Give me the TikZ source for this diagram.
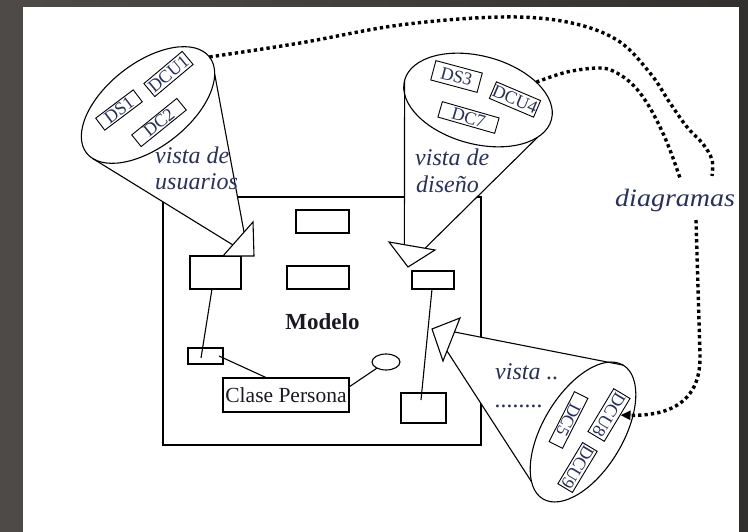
\documentclass[tikz,border=0pt]{standalone}
\usepackage{fontspec}
\setmainfont{Liberation Serif}
\usetikzlibrary{shapes.geometric,arrows.meta,calc}
\pgfdeclarelayer{bg}
\pgfdeclarelayer{mid}
\pgfsetlayers{bg,mid,main}
\definecolor{frameA}{RGB}{78,74,72}
\definecolor{frameB}{RGB}{50,48,46}
\definecolor{ink}{RGB}{40,48,92}
\definecolor{inkdark}{RGB}{25,25,35}
\begin{document}
\begin{tikzpicture}[x=1pt,y=-1pt,
  ln/.style={line width=1.1pt},
  obj/.style={draw, line width=1.1pt, fill=white, inner sep=0pt, outer sep=0pt},
  dtag/.style={draw, line width=0.9pt, fill=white, inner sep=0pt, text=ink,
               font=\fontsize{18}{18}\selectfont},
  conebase/.style={ellipse, draw, fill=white, line width=1.1pt, inner sep=0pt, outer sep=0pt},
  headtri/.style={draw, fill=white, line width=1.1pt, line join=miter},
  lbl/.style={anchor=base west, inner sep=0pt, text=ink,
              font=\fontsize{24}{24}\selectfont\itshape},
  dotline/.style={line width=3.4pt, dash pattern=on 3.3pt off 3.1pt}
]
\useasboundingbox (0,0) rectangle (748,532);

% frame and the model box underneath the view cones
\begin{pgfonlayer}{bg}
  \shade[left color=frameA, right color=frameB] (0,0) rectangle (748,532);
  \fill[white] (23,7) rectangle (739,532);
  \node[draw, line width=1.2pt, minimum width=318pt, minimum height=248pt,
        inner sep=0pt] (model) at (322,321) {};
\end{pgfonlayer}

% contents of the model
\node[font=\fontsize{23}{23}\selectfont\bfseries, text=inkdark, anchor=base,
      inner sep=0pt] (modelo) at (322.5,329.5) {Modelo};
\node[obj, minimum width=53pt, minimum height=23pt] (r1) at (322.5,221.5) {};
\node[obj, minimum width=62pt, minimum height=23pt] (r2) at (318,277.5) {};
\node[obj, minimum width=51pt, minimum height=33pt] (r3) at (215.5,272.5) {};
\node[obj, minimum width=42pt, minimum height=18pt] (r4) at (433,280) {};
\node[obj, minimum width=35pt, minimum height=16pt] (r5) at (205.5,356) {};
\node[obj, minimum width=126pt, minimum height=34pt, text=inkdark,
      font=\fontsize{21.5}{21.5}\selectfont] (clase) at (286,395) {Clase Persona};
\node[obj, ellipse, minimum width=28pt, minimum height=16pt] (oval) at (386,362) {};
\node[obj, minimum width=45pt, minimum height=30pt] (r6) at (423.5,408) {};

\draw[ln] ([xshift=-3.5pt]r3.south) -- ([xshift=-4.5pt,yshift=-2pt]r5.center);
\draw[ln] ([xshift=-4pt]r5.east) -- ([xshift=-19pt]clase.north);
\draw[ln] ([yshift=8pt]clase.east) -- (oval);
\draw[ln] ([xshift=-1pt]r4.south) -- ([xshift=-2.5pt,yshift=8pt]r6.center);

% bases of the three view cones
\node[conebase, minimum width=156pt, minimum height=84pt, rotate=38] (eU) at (148,105) {};
\node[conebase, minimum width=152pt, minimum height=88pt, rotate=-15] (eD) at (478,100) {};
\node[conebase, minimum width=156pt, minimum height=80pt, rotate=59] (eB) at (583,432) {};

% where the cone sides meet the arrow heads
\coordinate (uA) at (233,245);
\coordinate (uB) at (244,232);
\coordinate (dA) at (404.4,244.7);
\coordinate (dB) at (425,248.3);
\coordinate (bA) at (454.5,332);
\coordinate (bB) at (447,351);

\begin{pgfonlayer}{mid}
  \fill[white] (eU.186) -- (uA) -- (uB) -- (eU.-13) -- (eU.center) -- cycle;
  \fill[white] (eD.west) -- (dA) -- (dB) -- (eD.-17) -- (eD.center) -- cycle;
  \fill[white] (eB.east) -- (bA) -- (bB) -- (eB.165) -- (eB.center) -- cycle;
\end{pgfonlayer}

\draw[ln] (eU.186) -- (uA);
\draw[ln] (eU.-13) -- (uB);
\draw[ln] (eD.west) -- (dA);
\draw[ln] (eD.-17) -- (dB);
\draw[ln] (eB.east) -- (bA);
\draw[ln] (eB.165) -- (bB);

% hollow arrow heads at the cone apexes
\draw[headtri] (253,222) -- (254,256) -- (223,256) -- cycle;
\draw[headtri] (389,242) -- (435,250) -- (408,267) -- cycle;
\draw[headtri] (460,318) -- (432,329) -- (443,361) -- cycle;

% view labels
\node[lbl] (vu1) at (155,163.5) {vista de};
\node[lbl] (vu2) at (155,190) {usuarios};
\node[lbl] (vd1) at (415,166) {vista de};
\node[lbl] (vd2) at (416,193) {diseño};
\node[lbl] (vb1) at (495,379) {vista ..};
\node[lbl] (vb2) at (495,407) {........};
\node[lbl, font=\fontsize{25}{25}\selectfont\itshape, xscale=1.12] (diag) at (615,207) {diagramas};

% diagrams inside each view
\node[dtag, minimum width=47pt, minimum height=15pt, rotate=37] (ds1) at (119,110) {DS1};
\node[dtag, minimum width=50pt, minimum height=17pt, rotate=40] (dcu1) at (168.5,74) {DCU1};
\node[dtag, minimum width=58pt, minimum height=15pt, rotate=39] (dc2) at (159,122.5) {DC2};
\node[dtag, minimum width=48pt, minimum height=20pt, rotate=-15] (ds3) at (456.5,76.5) {DS3};
\node[dtag, minimum width=48pt, minimum height=18pt, rotate=-23] (dcu4) at (515,99.5) {DCU4};
\node[dtag, minimum width=59pt, minimum height=16pt, rotate=-16] (dc7) at (468.5,117.5) {DC7};
\node[dtag, minimum width=50pt, minimum height=19pt, rotate=-121] (dcu8) at (609,415) {DCU8};
\node[dtag, minimum width=56pt, minimum height=15pt, rotate=-117] (dc5) at (568.5,420) {DC5};
\node[dtag, minimum width=48pt, minimum height=17pt, rotate=-121] (dcu9) at (577.5,467.5) {DCU9};

% dotted links of the diagrams
\coordinate (endA) at (712,176);
\coordinate (endB) at (680,178);
\coordinate (startC) at (696,220);
\draw[dotline] plot[smooth, tension=0.6] coordinates {(eU.east) (300,43) (400,25) (500,17)
  (567,22) (617,40) (650,73) (670,103) (687,127) (703,144) (712,160) (endA)};
\draw[dotline] plot[smooth, tension=0.6] coordinates {(eD.32) (567,72) (600,68) (617,73)
  (633,85) (647,103) (660,127) (670,150) (endB)};
\draw[dotline, -{Triangle[length=10pt,width=9pt]}] (startC) -- (700,355)
  .. controls (701,398) and (675,416) .. (dcu8);
\end{tikzpicture}
\end{document}
